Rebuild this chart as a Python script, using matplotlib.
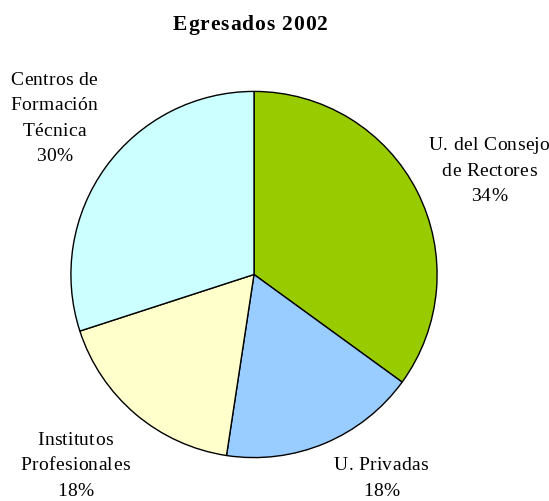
import matplotlib
matplotlib.use("Agg")
import matplotlib.pyplot as plt
from matplotlib.font_manager import FontProperties, findfont
from matplotlib.ft2font import FT2Font

title = "Egresados 2002"
categories = ["U. del Consejo\nde Rectores", "U. Privadas", "Institutos\nProfesionales", "Centros de\nFormación\nTécnica"]
values = [35.0, 17.4, 17.6, 30.0]
pct_labels = ["34%", "18%", "18%", "30%"]
colors = ["#99CC00", "#99CCFF", "#FFFFCC", "#CCFFFF"]

W, H = 549, 502
DPI = 100
fig = plt.figure(figsize=(W/DPI, H/DPI), dpi=DPI)
fig.patch.set_facecolor("white")
cx, cy, r = 254, 275.5, 184
ax = fig.add_axes([(cx - r)/W, (H - cy - r)/H, 2*r/W, 2*r/H])
ax.pie(values, colors=colors, startangle=90, counterclock=False,
       wedgeprops=dict(edgecolor="black", linewidth=1.0), radius=1.0)
ax.set_xlim(-1.005, 1.005)
ax.set_ylim(-1.005, 1.005)
ax.set_aspect("equal")
ax.axis("off")


def tracked_text(text, xc, y_first_base, size, weight="normal", tracking=1.0, line_px=25.5):
    prop = FontProperties(family="Liberation Serif", weight=weight, size=size)
    font = FT2Font(findfont(prop))
    font.set_size(size, DPI)
    for k, line in enumerate(text.split("\n")):
        adv = []
        for ch in line:
            g = font.load_char(ord(ch))
            adv.append(g.linearHoriAdvance / 65536.0)
        total = sum(adv) + tracking * (len(line) - 1)
        x = xc - total / 2.0
        yb = y_first_base + k * line_px
        for ch, a in zip(line, adv):
            if ch != " ":
                fig.text(x / W, 1 - yb / H, ch, fontproperties=prop,
                         ha="left", va="baseline")
            x += a + tracking


label_pos = [(489, 150), (381, 470.5), (75, 445), (54, 85)]
for cat, pct, (px, py) in zip(categories, pct_labels, label_pos):
    tracked_text(f"{cat}\n{pct}", px, py, size=14, tracking=0.3)

tracked_text(title, 250, 30, size=15.5, weight="bold", tracking=0.9)

fig.savefig("out.png", dpi=DPI)
